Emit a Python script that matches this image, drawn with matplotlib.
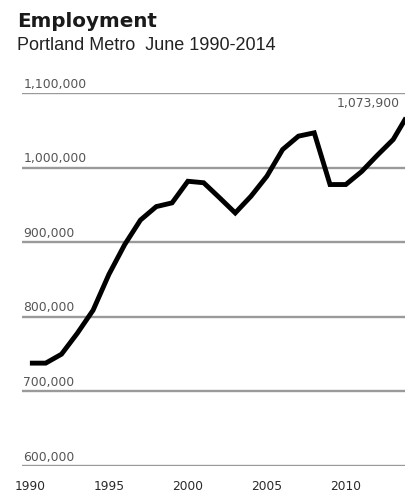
import matplotlib
matplotlib.use("Agg")
import matplotlib.pyplot as plt

# Portland metro employment, June of each year
years = list(range(1990, 2015))
employment = [738000, 738000, 750000, 778000, 809000, 857000, 897000, 930000,
              948000, 953000, 982000, 980000, 960000, 939500, 962000, 988700,
              1024600, 1042500, 1047000, 977600, 977600, 995000, 1017000,
              1038000, 1073900]
gridlines = [600000, 700000, 800000, 900000, 1000000, 1100000]
year_ticks = [1990, 1995, 2000, 2005, 2010]

W, H = 405, 493
fig = plt.figure(figsize=(W / 100, H / 100), dpi=100)
fig.patch.set_facecolor("white")

ax = fig.add_axes([22 / W, 27 / H, 387 / W, (466 - 93.3) / H])
ax.set_xlim(1989.5, 2014)
ax.set_ylim(600000, 1100000)
for s in ax.spines.values():
    s.set_visible(False)
ax.set_xticks([])
ax.set_yticks([])
ax.patch.set_alpha(0)

num_font = dict(family="DejaVu Sans", fontsize=8.9, color="#555555")

for g in gridlines:
    ax.axhline(g, color="#9a9a9a", lw=1.7, zorder=1)
    ax.annotate(f"{g:,}", xy=(0, g), xycoords=("axes fraction", "data"),
                xytext=(1.5, 2.5), textcoords="offset pixels",
                ha="left", va="bottom", **num_font)

ax.plot(years, employment, color="black", lw=3.5, solid_joinstyle="miter",
        solid_capstyle="butt", zorder=3, clip_on=False)

ax.annotate(f"{employment[-1]:,}", xy=(years[-1], employment[-1]),
            xytext=(-9, 9), textcoords="offset pixels",
            ha="right", va="center", **num_font)

for y in year_ticks:
    ax.annotate(str(y), xy=(y, 600000), xytext=(0, -20.5),
                textcoords="offset pixels", ha="center", va="center",
                family="DejaVu Sans", fontsize=8.8, color="#2a2a2a")

fig.text(17 / W, 1 - 26.7 / H, "Employment", family="DejaVu Sans",
         fontweight="bold", fontsize=14.3, color="#1a1a1a",
         ha="left", va="baseline")
fig.text(17 / W, 1 - 49.5 / H, "Portland Metro  June 1990-2014",
         family="Liberation Sans", fontsize=13, color="#222222",
         ha="left", va="baseline")

fig.savefig("out.png", dpi=100)
